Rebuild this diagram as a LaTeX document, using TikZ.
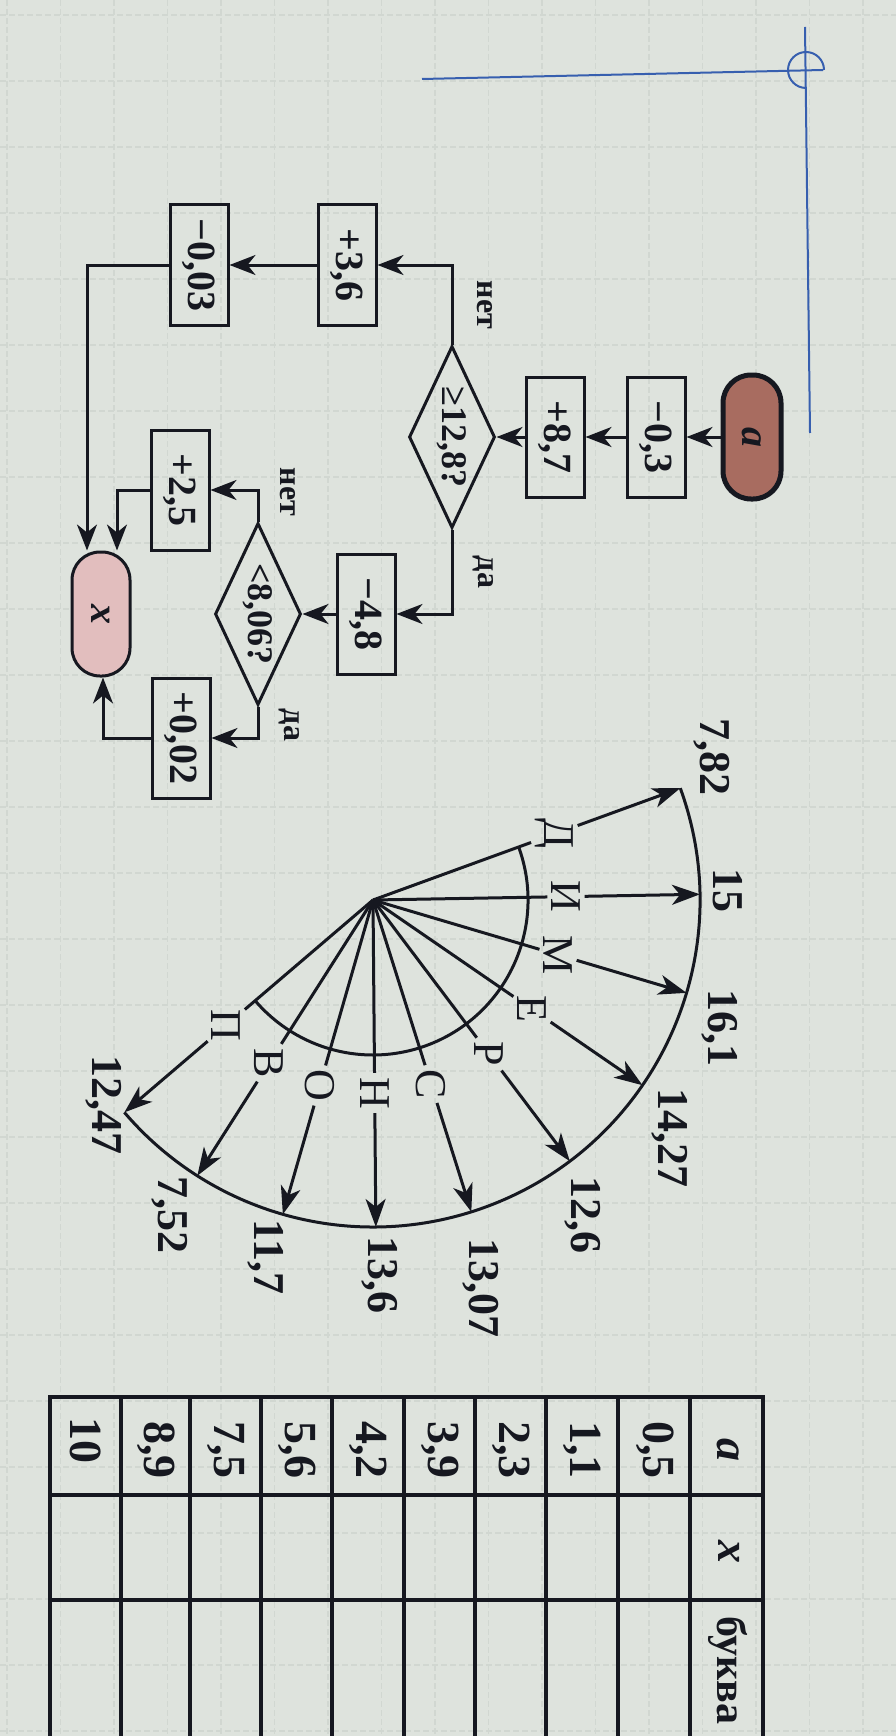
\documentclass[tikz,border=0pt]{standalone}
\usepackage{fontspec}
\setmainfont{Liberation Serif}
\usepackage{graphicx}
\usetikzlibrary{shapes.geometric,arrows.meta,calc}
\definecolor{bg}{RGB}{222,227,221}
\definecolor{gridc}{RGB}{209,215,209}
\definecolor{marg}{RGB}{55,95,175}
\definecolor{startfill}{RGB}{168,108,96}
\definecolor{endfill}{RGB}{226,190,190}
\definecolor{ink}{RGB}{22,24,32}
\newcommand{\rt}[1]{\rotatebox{-90}{#1}}
\newcommand{\boxfont}{\fontsize{40}{44}\selectfont\bfseries}
\newcommand{\diafont}{\fontsize{36}{40}\selectfont\bfseries}
\newcommand{\labfont}{\fontsize{32}{36}\selectfont\bfseries}
\newcommand{\fanfont}{\fontsize{44}{48}\selectfont}
\newcommand{\numfont}{\fontsize{44}{48}\selectfont\bfseries}
\newcommand{\tabfont}{\fontsize{46}{50}\selectfont\bfseries}
\begin{document}
\begin{tikzpicture}[x=1pt,y=-1pt,
  pbox/.style={draw=ink, line width=3pt, minimum width=58pt, minimum height=120pt, inner sep=0pt, text=ink, font=\boxfont},
  dec/.style={diamond, aspect=0.47, draw=ink, line width=3pt, minimum width=86pt, minimum height=182pt, inner sep=0pt, text=ink, font=\diafont},
  term/.style={draw=ink, rounded corners=28pt, minimum width=58pt, minimum height=124pt, inner sep=0pt, text=ink, font=\boxfont\itshape},
  arr/.style={draw=ink, line width=3pt, -{Stealth[length=26pt,width=20pt,inset=8pt]}},
  lab/.style={text=ink, inner sep=0pt, font=\labfont},
  fanline/.style={draw=ink, line width=3pt},
  fanarr/.style={draw=ink, line width=3pt, -{Stealth[length=28pt,width=20pt,inset=8pt]}},
  letter/.style={text=ink, inner sep=4pt, font=\fanfont},
  num/.style={text=ink, inner sep=0pt, font=\numfont},
  tab/.style={text=ink, inner sep=0pt, font=\tabfont},
  tline/.style={draw=ink, line width=3.5pt}
]
\useasboundingbox (0,0) rectangle (896,1736);
\clip (0,0) rectangle (896,1736);
\fill[bg] (0,0) rectangle (896,1736);
% faint graph-paper grid
\foreach \i in {0,...,17} \draw[gridc, line width=1.2pt, dash pattern=on 6pt off 3pt] ({7+53.5*\i},0) -- ({7+53.5*\i},1736);
\foreach \j in {0,...,26} \draw[gridc, line width=1.2pt, dash pattern=on 6pt off 3pt] (0,{15+66*\j}) -- (896,{15+66*\j});
% blue margin marks
\draw[marg, line width=2pt] (422,79) -- (823,70);
\draw[marg, line width=2pt] (805,27) -- (810,433);
\draw[marg, line width=2pt] ($(806,70)+(90:18)$) arc[start angle=90, end angle=360, radius=18];

% ---------- flowchart ----------
\node[term, fill=startfill, line width=5pt] (st) at (752,437) {\rt{\textbf{\textit{a}}}};
\node[pbox] (b1) at (656,437) {\rt{−0,3}};
\node[pbox] (b2) at (555,437) {\rt{+8,7}};
\node[dec] (d1) at (452,437) {\rt{≥12,8?}};
\node[pbox] (b36) at (347,265) {\rt{+3,6}};
\node[pbox] (b003) at (199,265) {\rt{−0,03}};
\node[pbox] (b48) at (366,614) {\rt{−4,8}};
\node[dec] (d2) at (258,614) {\rt{<8,06?}};
\node[pbox] (b25) at (180,490) {\rt{+2,5}};
\node[pbox] (b002) at (181,738) {\rt{+0,02}};
\node[term, fill=endfill, line width=3pt] (xo) at (101,614) {\rt{\textbf{\textit{x}}}};

\draw[arr] (st) -- (b1);
\draw[arr] (b1) -- (b2);
\draw[arr] (b2) -- (d1);
\draw[arr] (d1.north) |- (b36.east);
\draw[arr] (d1.south) |- (b48.east);
\draw[arr] (b36) -- (b003);
\draw[arr] (b003.west) -| ([xshift=-14pt]xo.north);
\draw[arr] (b48) -- (d2);
\draw[arr] (d2.north) |- (b25.east);
\draw[arr] (d2.south) |- (b002.east);
\draw[arr] (b25.west) -| ([xshift=16pt]xo.north);
\draw[arr] (b002.west) -| ([xshift=2pt]xo.south);

\node[lab] (n1) at (485,305) {\rt{нет}};
\node[lab] (y1) at (483,572) {\rt{да}};
\node[lab] (n2) at (288,492) {\rt{нет}};
\node[lab] (y2) at (289,725) {\rt{да}};

% ---------- fan ----------
\coordinate (C) at (373,900);
\draw[fanline] ($(C)+(-20:155)$) arc[start angle=-20, end angle=139.5, radius=155];
\draw[fanline] ($(C)+(-20:327)$) arc[start angle=-20, end angle=139.5, radius=327];
\foreach \a/\l/\k in {-20/Д/1, -1/И/2, 16.5/М/3, 34.5/Е/4, 53/Р/5, 72.5/С/6, 89.5/Н/7, 106/О/8, 122.5/В/9, 139.5/П/10} {
  \node[letter] (L\k) at ($(C)+(\a:193)$) {\rt{\l}};
  \coordinate (E\k) at ($(C)+(\a:327)$);
  \draw[fanline] (C) -- (L\k);
  \draw[fanarr] (L\k) -- (E\k);
}
\node[num] (v1) at (712,757) {\rt{7,82}};
\node[num] (v2) at (728,890) {\rt{15}};
\node[num] (v3) at (720,1028) {\rt{16,1}};
\node[num] (v4) at (670,1138) {\rt{14,27}};
\node[num] (v5) at (583,1215) {\rt{12,6}};
\node[num] (v6) at (481,1288) {\rt{13,07}};
\node[num] (v7) at (380,1275) {\rt{13,6}};
\node[num] (v8) at (266,1257) {\rt{11,7}};
\node[num] (v9) at (170,1215) {\rt{7,52}};
\node[num] (v10) at (104,1105) {\rt{12,47}};

% ---------- table ----------
\foreach \x in {50,121,190,261,332,404,475,546,618,690,763} \draw[tline] (\x,1397) -- (\x,1760);
\draw[tline] (48,1397) -- (765,1397);
\draw[tline] (50,1495) -- (763,1495);
\draw[tline] (50,1600) -- (763,1600);
\node[tab] (ha) at (728,1450) {\rt{\textit{a}}};
\node[tab] (hx) at (729,1552) {\rt{\textit{x}}};
\node[tab, anchor=north, font=\fontsize{42}{46}\selectfont\bfseries] (hb) at (728,1616) {\rt{буква}};
\node[tab] (r1) at (655,1450) {\rt{0,5}};
\node[tab] (r2) at (582,1450) {\rt{1,1}};
\node[tab] (r3) at (511,1450) {\rt{2,3}};
\node[tab] (r4) at (440,1450) {\rt{3,9}};
\node[tab] (r5) at (368,1450) {\rt{4,2}};
\node[tab] (r6) at (297,1450) {\rt{5,6}};
\node[tab] (r7) at (226,1450) {\rt{7,5}};
\node[tab] (r8) at (156,1450) {\rt{8,9}};
\node[tab] (r9) at (86,1440) {\rt{10}};
\end{tikzpicture}
\end{document}
